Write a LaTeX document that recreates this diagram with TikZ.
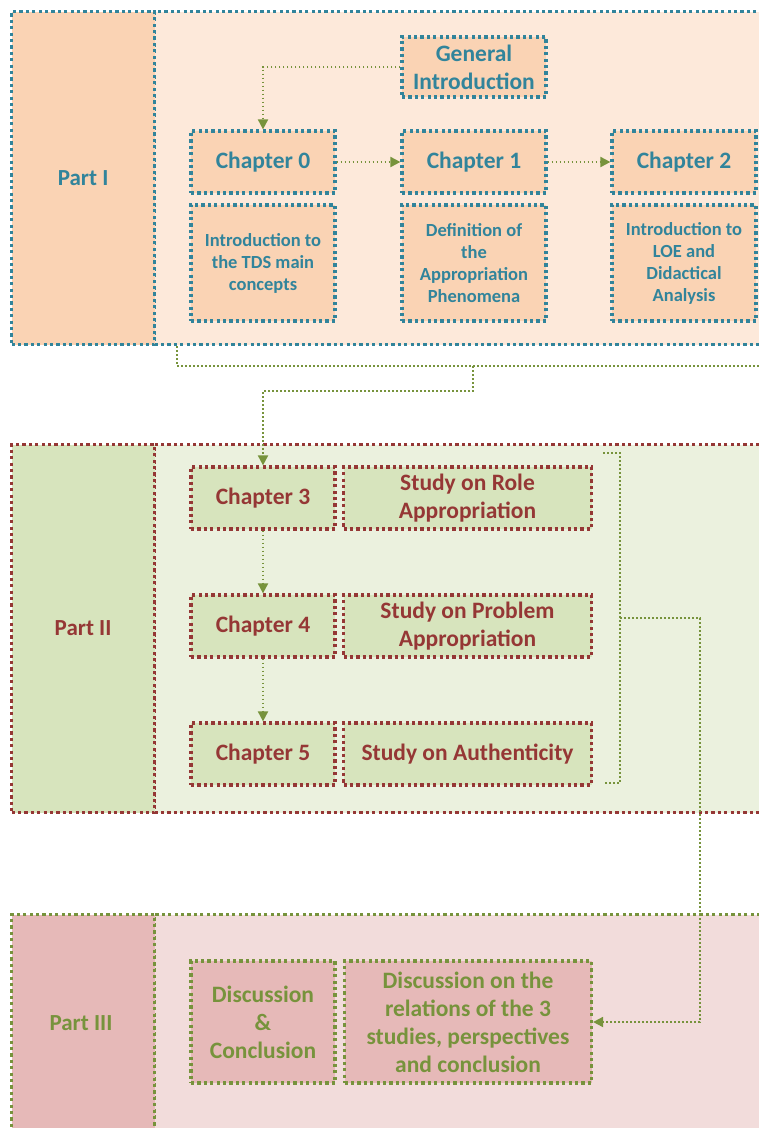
\documentclass[tikz,border=0pt]{standalone}
\usepackage{fontspec}
\setmainfont{Carlito}
\usetikzlibrary{arrows.meta}
\definecolor{tealc}{HTML}{31849B}
\definecolor{redc}{HTML}{953735}
\definecolor{greenc}{HTML}{77933C}
\definecolor{peachD}{HTML}{FAD3B4}
\definecolor{peachL}{HTML}{FDE9DA}
\definecolor{greenD}{HTML}{D7E4BD}
\definecolor{greenL}{HTML}{EBF1DE}
\definecolor{pinkD}{HTML}{E6B9B8}
\definecolor{pinkL}{HTML}{F2DCDB}
\tikzset{
  dotb/.style={line width=3.2pt, dash pattern=on 3.2pt off 3.2pt},
  partbox/.style={dotb, anchor=north west, inner sep=0pt, align=center,
    font=\bfseries\fontsize{23}{28}\selectfont},
  bigtxt/.style={font=\bfseries\fontsize{23.5}{28}\selectfont},
  smalltxt/.style={font=\bfseries\fontsize{18.5}{22}\selectfont},
  ibox/.style={dotb, align=center, inner sep=2pt},
  p1box/.style={ibox, draw=tealc, fill=peachD, text=tealc},
  p2box/.style={ibox, draw=redc, fill=greenD, text=redc},
  p3box/.style={ibox, draw=greenc, fill=pinkD, text=greenc},
  conn/.style={draw=greenc, line width=1.8pt, dash pattern=on 1.8pt off 2.2pt},
  arr/.style={conn, -{Triangle[width=10pt,length=10pt,fill=greenc]}},
}
\begin{document}
\begin{tikzpicture}[x=1pt,y=-1pt]
\useasboundingbox (0,0) rectangle (759,1128);
\clip (0,0) rectangle (759,1128);
\fill[white] (0,0) rectangle (759,1128);

% ---------- Part I ----------
\node[partbox, draw=tealc, fill=peachL, minimum width=640pt, minimum height=333pt] (p1r) at (153,10) {};
\node[partbox, draw=tealc, fill=peachD, text=tealc, minimum width=143pt, minimum height=333pt] (p1l) at (10,10) {Part I};

\node[p1box, bigtxt, minimum width=144pt, minimum height=60pt] (gi) at (474,67) {General\\Introduction};
\node[p1box, bigtxt, minimum width=144pt, minimum height=62pt] (c0) at (263,162) {Chapter 0};
\node[p1box, bigtxt, minimum width=144pt, minimum height=62pt] (c1) at (474,162) {Chapter 1};
\node[p1box, bigtxt, minimum width=144pt, minimum height=62pt] (c2) at (684,162) {Chapter 2};
\node[p1box, smalltxt, minimum width=144pt, minimum height=116pt] (d0) at (263,263) {Introduction to\\the TDS main\\concepts};
\node[p1box, smalltxt, minimum width=144pt, minimum height=116pt] (d1) at (474,263) {Definition of\\the\\Appropriation\\Phenomena};
\node[p1box, smalltxt, minimum width=144pt, minimum height=116pt] (d2) at (684,263) {Introduction to\\LOE and\\Didactical\\Analysis};

\draw[arr] (gi.west) -| (c0.north);
\draw[arr] (c0.east) -- (c1.west);
\draw[arr] (c1.east) -- (c2.west);

% ---------- Part II ----------
\node[partbox, draw=redc, fill=greenL, minimum width=640pt, minimum height=368pt] (p2r) at (153,443) {};
\node[partbox, draw=redc, fill=greenD, text=redc, minimum width=143pt, minimum height=368pt] (p2l) at (10,443) {Part II};

\node[p2box, bigtxt, minimum width=144pt, minimum height=62pt] (c3) at (263,498) {Chapter 3};
\node[p2box, bigtxt, minimum width=248pt, minimum height=62pt] (s3) at (467.5,498) {Study on Role\\Appropriation};
\node[p2box, bigtxt, minimum width=144pt, minimum height=62pt] (c4) at (263,626) {Chapter 4};
\node[p2box, bigtxt, minimum width=248pt, minimum height=62pt] (s4) at (467.5,626) {Study on Problem\\Appropriation};
\node[p2box, bigtxt, minimum width=144pt, minimum height=62pt] (c5) at (263,754) {Chapter 5};
\node[p2box, bigtxt, minimum width=248pt, minimum height=62pt] (s5) at (467.5,754) {Study on Authenticity};

\draw[arr] (c3.south) -- (c4.north);
\draw[arr] (c4.south) -- (c5.north);

% connector Part I -> Part II
\coordinate (b1) at (177,343);
\coordinate (b1s) at (177,366);
\coordinate (b1e) at (770,366);
\coordinate (b1m) at (473,366);
\coordinate (b1n) at (473,391);
\coordinate (b1y) at (0,391);
\draw[conn] (b1 |- p1r.south) -- (b1s) -- (b1e);
\draw[arr] (b1m) -- (b1n) -- (c3.north |- b1y) -- (c3.north);

% ---------- Part III ----------
\node[partbox, draw=greenc, fill=pinkL, minimum width=640pt, minimum height=260pt] (p3r) at (153,913) {};
\node[partbox, draw=greenc, fill=pinkD, text=greenc, minimum width=143pt, minimum height=260pt] (p3l) at (10,913) {};
\node[text=greenc, font=\bfseries\fontsize{23}{28}\selectfont] (p3t) at (81,1023) {Part III};

\node[p3box, bigtxt, minimum width=144pt, minimum height=122pt] (dc) at (263,1022) {Discussion\\\&\\Conclusion};
\node[p3box, bigtxt, minimum width=247pt, minimum height=122pt] (dr) at (468,1022) {Discussion on the\\relations of the 3\\studies, perspectives\\and conclusion};

% bracket Part II -> Part III
\coordinate (k1) at (603,453);
\coordinate (k2) at (620,453);
\coordinate (k3) at (620,783);
\coordinate (k4) at (605,783);
\coordinate (km) at (620,618);
\coordinate (kr) at (700,618);
\draw[conn] (k1) -- (k2) -- (k3) -- (k4);
\draw[arr] (km) -- (kr) |- (dr.east);
\end{tikzpicture}
\end{document}
